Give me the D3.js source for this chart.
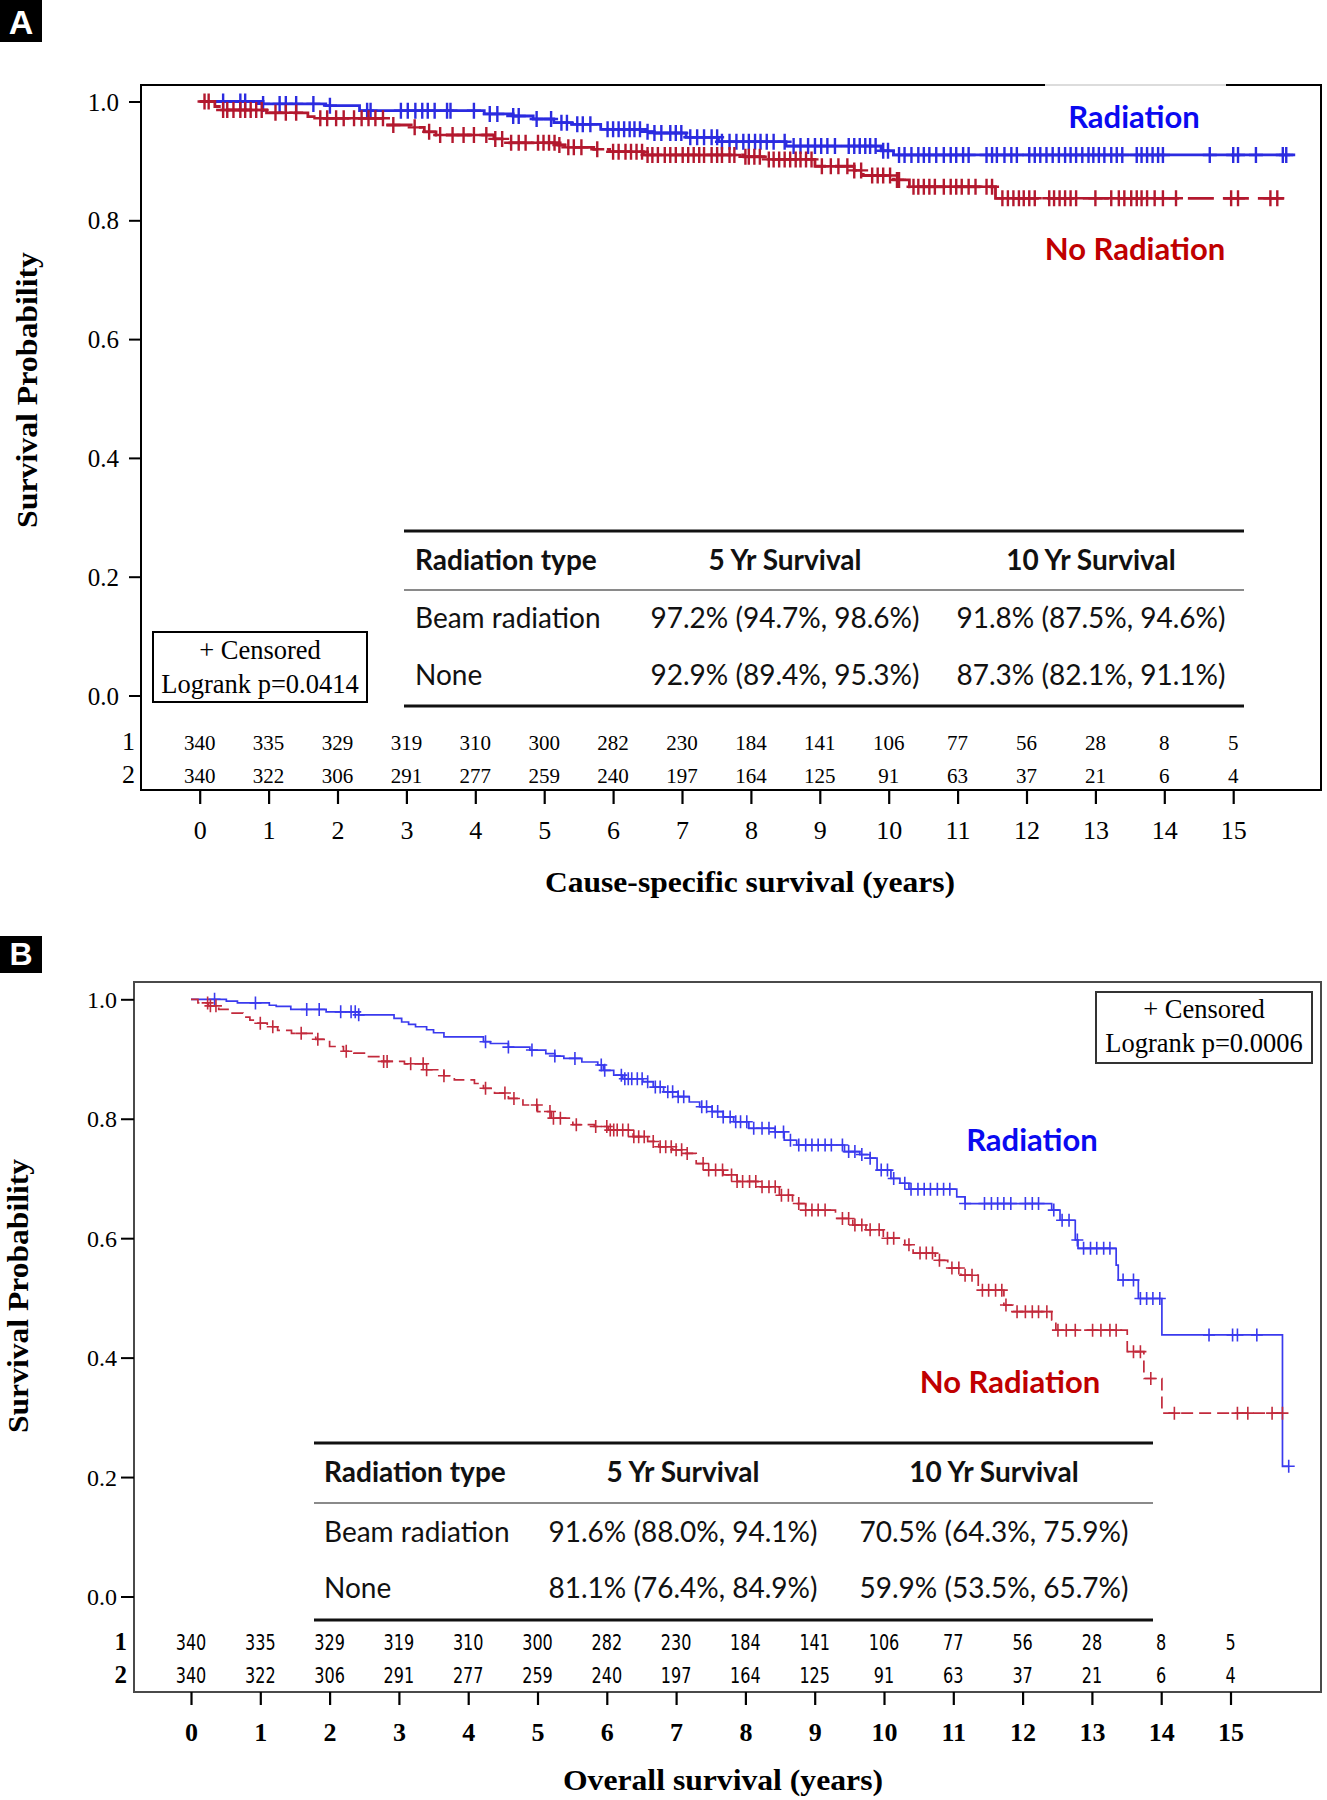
<!DOCTYPE html>
<html><head><meta charset="utf-8">
<script src="https://cdn.jsdelivr.net/npm/d3@7"></script>
<style>body{margin:0;background:#fff}</style>
</head><body>
<svg id="c" width="1327" height="1800" xmlns="http://www.w3.org/2000/svg"></svg>
<script>
// ---------------- DATA ----------------
const yearTicks = [0,1,2,3,4,5,6,7,8,9,10,11,12,13,14,15];
const probTicks = [0.0,0.2,0.4,0.6,0.8,1.0];
const atRiskRadiation = [340,335,329,319,310,300,282,230,184,141,106,77,56,28,8,5];
const atRiskNone      = [340,322,306,291,277,259,240,197,164,125,91,63,37,21,6,4];
const riskRowLabels = ["1","2"];
const curveLabels = ["Radiation","No Radiation"];
const tableHeader = ["Radiation type","5 Yr Survival","10 Yr Survival"];
const csTableRows = [["Beam radiation","97.2% (94.7%, 98.6%)","91.8% (87.5%, 94.6%)"],
                     ["None","92.9% (89.4%, 95.3%)","87.3% (82.1%, 91.1%)"]];
const osTableRows = [["Beam radiation","91.6% (88.0%, 94.1%)","70.5% (64.3%, 75.9%)"],
                     ["None","81.1% (76.4%, 84.9%)","59.9% (53.5%, 65.7%)"]];
const csLegend = ["+ Censored","Logrank p=0.0414"];
const osLegend = ["+ Censored","Logrank p=0.0006"];

// Panel A: cause-specific survival
const csRadTime = [0,0.92,1.83,2.32,4.13,4.55,4.84,5.14,5.40,5.82,6.47,6.60,7.06,7.53,8.51,9.89,10.07];
const csRadSurv = [1.0,0.996,0.993,0.9845,0.979,0.9756,0.9705,0.9643,0.9616,0.9532,0.9492,0.947,0.9397,0.9323,0.925,0.917,0.910];
const csRadEnd = 15.9;
const csRadCensor = [0.34,0.59,0.66,0.92,1.16,1.25,1.40,1.65,1.89,2.43,2.48,2.92,3.02,3.13,3.23,3.31,3.41,3.59,3.64,3.98,4.21,4.32,4.55,4.63,4.89,5.10,5.25,5.33,5.48,5.56,5.67,5.92,6.0,6.08,6.16,6.24,6.31,6.39,6.50,6.60,6.70,6.83,6.91,6.99,7.12,7.22,7.32,7.43,7.51,7.58,7.69,7.79,
  7.89,7.97,8.06,8.14,8.23,8.33,8.49,8.62,8.72,8.83,8.93,9.02,9.11,9.22,9.42,9.50,9.58,9.66,9.73,9.81,9.92,9.99,10.15,10.23,10.33,10.43,10.51,10.59,10.69,10.80,10.90,10.98,11.08,11.16,11.42,11.50,11.57,11.68,11.78,11.86,12.04,12.12,12.20,12.29,12.38,12.47,12.56,12.64,12.72,12.81,12.90,12.97,13.05,13.13,13.23,13.31,13.39,13.60,13.67,13.75,13.83,13.91,13.98,14.66,15.0,15.07,15.33,15.72,15.77];
const csNoneTime = [0,0.22,0.32,0.97,1.57,1.70,2.73,3.07,3.26,3.43,4.27,4.42,5.20,5.30,5.72,5.95,6.44,7.90,8.23,8.93,9.50,9.63,10.07,10.30,11.55];
const csNoneSurv = [1.0,0.9916,0.9857,0.981,0.9745,0.9717,0.9604,0.9565,0.949,0.9436,0.937,0.9305,0.9268,0.9228,0.9195,0.9155,0.910,0.907,0.9025,0.891,0.884,0.8754,0.868,0.8565,0.837];
const csNoneEnd = 15.8;
const csNoneCensor = [0.07,0.13,0.34,0.40,0.49,0.59,0.66,0.74,0.82,0.90,1.10,1.25,1.40,1.75,1.85,1.98,2.09,2.24,2.35,2.45,2.55,2.66,2.81,3.12,3.33,3.49,3.67,3.83,3.98,4.16,4.29,4.39,4.52,4.63,4.73,4.91,4.99,5.07,5.15,5.22,5.35,5.43,5.54,5.77,6.0,6.08,6.18,6.26,6.34,6.42,6.50,6.57,6.65,6.75,6.83,6.91,7.01,7.09,7.17,7.25,7.32,7.43,7.51,7.58,7.69,7.76,7.92,
  7.97,8.05,8.13,8.26,8.33,8.41,8.49,8.57,8.65,8.72,8.80,8.88,9.03,9.16,9.27,9.40,9.50,9.60,9.76,9.84,9.92,10.02,10.12,10.15,10.36,10.43,10.51,10.59,10.67,10.80,10.90,10.98,11.06,11.16,11.26,11.42,11.50,11.65,11.73,11.81,11.89,11.96,12.04,12.12,12.33,12.40,12.48,12.56,12.64,12.72,13.0,13.23,13.34,13.42,13.52,13.60,13.67,13.75,13.86,13.98,14.17,14.97,15.07,15.54,15.64];

// Panel B: overall survival
const osRadTime = [0,0.51,0.67,1.13,1.23,1.44,1.95,2.42,2.93,3.04,3.14,3.24,3.40,3.50,3.65,4.22,4.32,4.58,4.89,5.12,5.25,5.38,5.64,5.87,5.95,6.10,6.23,6.52,6.67,6.82,7.03,7.19,7.34,7.52,7.68,7.83,8.05,8.43,8.56,8.74,9.43,9.65,9.80,9.90,10.10,10.23,10.36,11.05,11.17,12.42,12.54,12.76,12.80,13.35,13.38,13.67,14.01,15.75];
const osRadSurv = [1.0,0.997,0.994,0.990,0.988,0.983,0.979,0.974,0.968,0.962,0.958,0.954,0.949,0.944,0.937,0.929,0.926,0.920,0.915,0.909,0.905,0.901,0.895,0.890,0.881,0.873,0.867,0.862,0.853,0.845,0.837,0.828,0.820,0.812,0.803,0.795,0.784,0.778,0.764,0.756,0.745,0.740,0.734,0.714,0.700,0.692,0.682,0.669,0.658,0.647,0.630,0.597,0.583,0.555,0.530,0.499,0.438,0.218];
const osRadEnd = 15.84;
const osRadCensor = [0.34,0.93,1.67,1.85,2.16,2.31,2.37,2.42,4.25,4.58,4.92,5.25,5.54,5.92,5.97,6.21,6.26,6.31,6.36,6.44,6.51,6.59,6.70,6.77,6.88,6.95,7.03,7.11,7.37,7.44,7.52,7.60,7.68,7.78,7.86,
  7.93,8.02,8.12,8.24,8.34,8.43,8.55,8.65,8.77,8.87,8.96,9.05,9.15,9.24,9.40,9.49,9.58,9.68,9.80,9.96,10.05,10.14,10.30,10.39,10.49,10.58,10.67,10.77,10.86,10.95,11.17,11.45,11.55,11.64,11.73,11.83,12.04,12.14,12.23,12.45,12.57,12.67,12.79,12.88,12.98,13.07,13.17,13.26,13.45,13.60,13.70,13.79,13.88,13.98,14.69,15.03,15.10,15.38,15.84];
const osNoneTime = [0,0.10,0.25,0.40,0.55,0.75,0.85,0.95,1.10,1.25,1.45,1.80,2.00,2.20,2.35,2.52,2.73,3.08,3.40,3.65,3.80,4.09,4.22,4.38,4.58,4.79,5.00,5.20,5.51,5.82,6.02,6.38,6.59,6.75,6.95,7.11,7.29,7.42,7.68,7.88,8.18,8.49,8.68,8.87,9.30,9.55,9.74,9.99,10.30,10.42,10.74,10.92,11.11,11.36,11.73,11.86,12.42,12.48,13.51,13.75,14.01];
const osNoneSurv = [1.0,0.994,0.989,0.983,0.977,0.970,0.965,0.960,0.954,0.948,0.943,0.933,0.921,0.913,0.910,0.904,0.896,0.892,0.882,0.872,0.865,0.859,0.851,0.843,0.834,0.823,0.812,0.801,0.790,0.787,0.781,0.770,0.762,0.753,0.748,0.742,0.725,0.714,0.706,0.695,0.686,0.672,0.658,0.647,0.633,0.622,0.614,0.600,0.589,0.575,0.563,0.550,0.538,0.513,0.488,0.477,0.463,0.446,0.410,0.365,0.307];
const osNoneEnd = 15.84;
const osNoneCensor = [0.24,0.28,0.36,1.00,1.18,1.59,1.83,2.24,2.78,2.83,3.17,3.35,3.40,3.65,4.25,4.53,4.66,4.99,5.18,5.23,5.33,5.56,5.84,6.00,6.05,6.10,6.15,6.23,6.31,6.39,6.46,6.54,6.67,6.77,6.85,6.93,7.00,7.08,7.16,7.39,7.47,7.57,7.67,7.80,7.88,
  7.96,8.06,8.15,8.24,8.34,8.43,8.52,8.62,8.77,8.87,8.96,9.05,9.15,9.40,9.49,9.58,9.68,9.80,9.93,10.05,10.14,10.36,10.52,10.61,10.70,10.80,10.98,11.08,11.17,11.27,11.42,11.51,11.61,11.70,11.76,11.92,12.04,12.14,12.23,12.35,12.51,12.63,12.76,13.01,13.13,13.26,13.35,13.60,13.70,13.85,14.19,15.10,15.25,15.60,15.75];

// ---------------- DRAWING ----------------
const SERIF = "'Liberation Serif','Times New Roman',serif";
const SANS = "Lato,'Open Sans',sans-serif";
const svg = d3.select("#c");

function stepValue(times, surv, t){
  const i = d3.bisectRight(times, t) - 1;
  return surv[Math.max(0, i)];
}

function drawPanel(p){
  const g = svg.append("g");
  const x = d3.scaleLinear().domain([0,15]).range(p.xRange);
  const y = d3.scaleLinear().domain([0,1]).range(p.yRange);

  // panel letter
  g.append("rect").attr("x",0).attr("y",p.letterBox[0]).attr("width",42).attr("height",p.letterBox[1]).attr("fill","#000");
  g.append("text").attr("x",21).attr("y",p.letterBox[0]+p.letterBox[1]-8).attr("text-anchor","middle")
    .attr("font-family","'Liberation Sans',Arial,sans-serif").attr("font-weight","bold").attr("font-size",p.letterSize)
    .attr("fill","#fff").text(p.letter);

  // frame
  const f = p.frame;
  g.append("rect").attr("x",f.l).attr("y",f.t).attr("width",f.r-f.l).attr("height",f.b-f.t)
    .attr("fill","none").attr("stroke",p.frameColor).attr("stroke-width",2);
  if (p.lightTop) g.append("line").attr("x1",p.lightTop[0]).attr("x2",p.lightTop[1]).attr("y1",f.t).attr("y2",f.t)
    .attr("stroke","#dcdcdc").attr("stroke-width",2.2);

  // y axis
  const ya = g.append("g").attr("transform",`translate(${f.l},0)`)
    .call(d3.axisLeft(y).tickValues(probTicks).tickFormat(d3.format(".1f")).tickSize(p.yTickSize).tickPadding(p.yTickPad));
  ya.select(".domain").remove();
  ya.selectAll("line").attr("stroke","#000").attr("stroke-width",2);
  ya.selectAll("text").attr("font-family",SERIF).attr("font-size",p.yTickFont).attr("fill","#000").attr("dy","0.34em");

  // x axis
  const xa = g.append("g").attr("transform",`translate(0,${f.b})`)
    .call(d3.axisBottom(x).tickValues(yearTicks).tickFormat(d3.format("d")).tickSize(p.xTickSize).tickPadding(p.xTickPad));
  xa.select(".domain").remove();
  xa.selectAll("line").attr("stroke","#000").attr("stroke-width",2.2);
  xa.selectAll("text").attr("font-family",SERIF).attr("font-size",p.xTickFont).attr("font-weight",p.xTickWeight).attr("fill","#000");

  // axis titles
  g.append("text").attr("transform",`translate(${p.yTitle[0]},${p.yTitle[1]}) rotate(-90)`)
    .attr("text-anchor","middle").attr("font-family",SERIF).attr("font-weight","bold").attr("font-size",29)
    .attr("textLength",p.yTitle[2]).attr("lengthAdjust","spacingAndGlyphs").text("Survival Probability");
  g.append("text").attr("x",p.xTitle[0]).attr("y",p.xTitle[1]).attr("text-anchor","middle")
    .attr("font-family",SERIF).attr("font-weight","bold").attr("font-size",29)
    .attr("textLength",p.xTitle[2]).attr("lengthAdjust","spacingAndGlyphs").text(p.xTitleText);

  // at-risk rows
  [atRiskRadiation, atRiskNone].forEach((row,ri)=>{
    g.append("g").selectAll("text").data(row).join("text")
      .attr("x",(d,i)=>x(yearTicks[i])).attr("y",p.riskY[ri]).attr("text-anchor","middle")
      .attr("font-family",p.riskFont).attr("font-size",p.riskSize).attr("fill","#000")
      .attr("transform",(d,i)=>p.riskScaleX ? `translate(${x(yearTicks[i])},0) scale(${p.riskScaleX},1) translate(${-x(yearTicks[i])},0)` : null)
      .text(d=>d);
    g.append("text").attr("x",p.riskLabelX).attr("y",p.riskY[ri]).attr("text-anchor","end")
      .attr("font-family",SERIF).attr("font-size",p.riskLabelSize).attr("font-weight",p.riskLabelWeight).text(riskRowLabels[ri]);
  });

  // table
  const tb = p.table;
  g.append("line").attr("x1",tb.l).attr("x2",tb.r).attr("y1",tb.lines[0]).attr("y2",tb.lines[0]).attr("stroke","#111").attr("stroke-width",3);
  g.append("line").attr("x1",tb.l).attr("x2",tb.r).attr("y1",tb.lines[1]).attr("y2",tb.lines[1]).attr("stroke","#8a8a8a").attr("stroke-width",2);
  g.append("line").attr("x1",tb.l).attr("x2",tb.r).attr("y1",tb.lines[2]).attr("y2",tb.lines[2]).attr("stroke","#111").attr("stroke-width",3);
  const rowsAll = [tableHeader].concat(p.tableRows);
  rowsAll.forEach((row,ri)=>{
    row.forEach((cell,ci)=>{
      g.append("text").attr("x",tb.cols[ci]).attr("y",tb.base[ri])
        .attr("text-anchor",ci===0?"start":"middle")
        .attr("font-family",SANS).attr("font-size",28).attr("font-weight",ri===0?"bold":"normal")
        .attr("fill","#111").text(cell);
    });
  });

  // legend box
  const lb = p.legend;
  g.append("rect").attr("x",lb.x).attr("y",lb.y).attr("width",lb.w).attr("height",lb.h)
    .attr("fill","#fff").attr("stroke",lb.stroke).attr("stroke-width",2);
  p.legendText.forEach((t,i)=>{
    g.append("text").attr("x",lb.x+lb.w/2).attr("y",lb.base[i]).attr("text-anchor","middle")
      .attr("font-family",SERIF).attr("font-size",26.5).attr("fill","#000").text(t);
  });

  // curves
  const line = d3.line().x(d=>x(d[0])).y(d=>y(d[1])).curve(d3.curveStepAfter);
  p.series.forEach(s=>{
    const pts = s.time.map((t,i)=>[t,s.surv[i]]);
    pts.push([s.end, s.surv[s.surv.length-1]]);
    g.append("path").attr("d",line(pts)).attr("fill","none").attr("stroke",s.color)
      .attr("stroke-width",p.lineWidth).attr("stroke-dasharray",s.dash||null);
    const cg = g.append("g");
    cg.selectAll("path").data(s.censor).join("path")
      .attr("d",t=>{
        const cx = x(t), cy = y(stepValue(s.time,s.surv,t));
        return `M${cx-p.markH},${cy}H${cx+p.markH}M${cx},${cy-p.markV}V${cy+p.markV}`;
      })
      .attr("fill","none").attr("stroke",s.color).attr("stroke-width",p.markWidth);
  });

  // curve labels
  p.labels.forEach((lab,i)=>{
    g.append("text").attr("x",lab[0]).attr("y",lab[1]).attr("text-anchor","middle")
      .attr("font-family",SANS).attr("font-weight","bold").attr("font-size",31)
      .attr("fill",i===0?"#0a0af0":"#c00000").text(curveLabels[i]);
  });
}

drawPanel({
  letter:"A", letterBox:[0,42], letterSize:34,
  xRange:[199.7,1233.2], yRange:[695.5,101.5],
  frame:{l:141,t:85,r:1321,b:790}, frameColor:"#000", lightTop:[1045,1226],
  yTickSize:12, yTickPad:10, yTickFont:25,
  xTickSize:14, xTickPad:17, xTickFont:26, xTickWeight:"normal",
  yTitle:[37,390,276], xTitle:[750,892,410], xTitleText:"Cause-specific survival (years)",
  riskY:[750,783], riskFont:SERIF, riskSize:21, riskLabelX:135, riskLabelSize:26, riskLabelWeight:"normal",
  table:{l:404,r:1244,lines:[531,590,706],cols:[415,785,1091],base:[570,628,685]},
  tableRows:csTableRows,
  legend:{x:153,y:632,w:214,h:70,base:[659,693],stroke:"#000"},
  legendText:csLegend,
  lineWidth:2.8, markH:7, markV:8, markWidth:2.4,
  series:[
    {time:csRadTime,surv:csRadSurv,end:csRadEnd,censor:csRadCensor,color:"#2b2be0"},
    {time:csNoneTime,surv:csNoneSurv,end:csNoneEnd,censor:csNoneCensor,color:"#b3182e",dash:"26 9"}
  ],
  labels:[[1134,128],[1135,260]]
});

drawPanel({
  letter:"B", letterBox:[936,37], letterSize:32,
  xRange:[191,1230.5], yRange:[1596.5,999.3],
  frame:{l:134,t:982,r:1321,b:1692}, frameColor:"#4a4a4a", lightTop:null,
  yTickSize:13, yTickPad:4, yTickFont:24,
  xTickSize:13, xTickPad:18, xTickFont:26, xTickWeight:"bold",
  yTitle:[28,1296,274], xTitle:[723,1790,320], xTitleText:"Overall survival (years)",
  riskY:[1650,1683], riskFont:"'Liberation Sans Narrow','DejaVu Sans Condensed','Liberation Sans',sans-serif", riskSize:21, riskScaleX:0.85, riskLabelX:127, riskLabelSize:25, riskLabelWeight:"bold",
  table:{l:314,r:1153,lines:[1443,1503,1620],cols:[324,683,994],base:[1482,1542,1598]},
  tableRows:osTableRows,
  legend:{x:1096,y:992,w:216,h:71,base:[1018,1052],stroke:"#333"},
  legendText:osLegend,
  lineWidth:1.7, markH:6, markV:6.5, markWidth:1.6,
  series:[
    {time:osRadTime,surv:osRadSurv,end:osRadEnd,censor:osRadCensor,color:"#3a3aee"},
    {time:osNoneTime,surv:osNoneSurv,end:osNoneEnd,censor:osNoneCensor,color:"#c22a3c",dash:"12 6"}
  ],
  labels:[[1032,1151],[1010,1393]]
});
</script>
</body></html>
